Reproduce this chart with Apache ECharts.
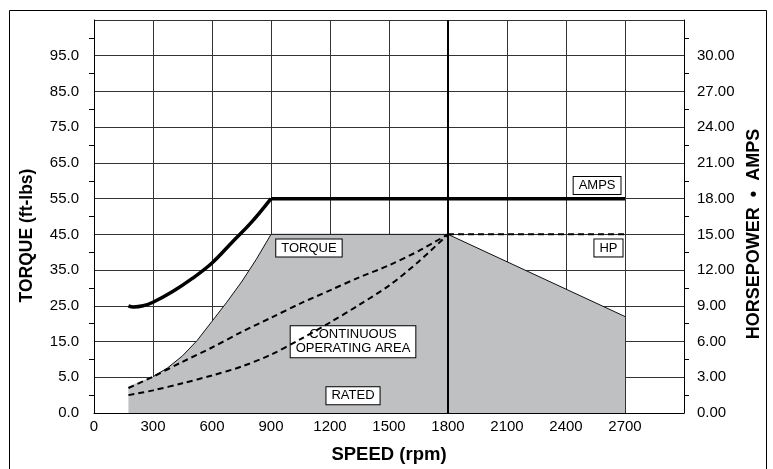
<!DOCTYPE html>
<html>
<head>
<meta charset="utf-8">
<script src="https://cdn.jsdelivr.net/npm/echarts@6/dist/echarts.min.js"></script>
<style>
html,body{margin:0;padding:0;background:#fff;}
#chart{width:773px;height:469px;}
</style>
</head>
<body>
<div id="chart"></div>
<script>
// ---- Data (values in the right-hand HORSEPOWER • AMPS axis units) ----
const leftTickLabels = ['0.0','5.0','15.0','25.0','35.0','45.0','55.0','65.0','75.0','85.0','95.0',''];

const ampsSpeed  = [175, 200, 250, 300, 400, 500, 600, 700, 800, 900];
const ampsValues = [9.0, 8.9, 9.0, 9.3, 10.2, 11.3, 12.6, 14.3, 16.0, 18.0];
const ampsFlatSpeed  = [900, 2700];
const ampsFlatValues = [18.0, 18.0];

const torqueSpeed  = [175, 300, 375, 450, 525, 600, 675, 750, 825, 900, 1800, 2700];
const torqueValues = [2.25, 3.05, 3.8, 4.8, 6.1, 7.7, 9.3, 11.0, 12.9, 15.0, 15.0, 8.1];

const hpSpeed      = [175, 300, 450, 600, 750, 900, 1050, 1200, 1350, 1500, 1650, 1800];
const hpUpper      = [2.1, 3.05, 4.3, 5.5, 6.8, 8.0, 9.2, 10.3, 11.4, 12.4, 13.6, 15.0];
const hpLower      = [1.5, 1.9, 2.5, 3.15, 3.9, 4.9, 6.2, 7.6, 9.1, 10.7, 12.7, 15.0];
const hpFlatSpeed  = [1800, 2700];
const hpFlatValues = [15.0, 15.0];

const ratedSpeed = 1800;

const annotations = [
  {text: 'AMPS', x: 2558, y: 19.1},
  {text: 'HP', x: 2616, y: 13.86},
  {text: 'TORQUE', x: 1093, y: 13.86},
  {text: 'CONTINUOUS\nOPERATING AREA', x: 1317, y: 5.98},
  {text: 'RATED', x: 1317, y: 1.44}
];

const pairs = (xs, ys) => xs.map((x, i) => [x, ys[i]]);
const FONT = 'Liberation Sans, Arial, Helvetica, sans-serif';

const chart = echarts.init(document.getElementById('chart'), null, {renderer: 'canvas'});

const option = {
  animation: false,
  backgroundColor: '#fff',
  graphic: [{
    type: 'rect',
    shape: {x: 9.5, y: 10.5, width: 757, height: 480},
    style: {fill: 'none', stroke: '#000', lineWidth: 1},
    silent: true, z: 0
  }],
  grid: {left: 94, right: 89, top: 20, bottom: 49, containLabel: false},
  xAxis: {
    type: 'value', min: 0, max: 3000, interval: 300,
    name: 'SPEED (rpm)', nameLocation: 'middle', nameGap: 32,
    nameTextStyle: {fontFamily: FONT, fontWeight: 'bold', fontSize: 18.5, color: '#000'},
    axisLine: {show: true, lineStyle: {color: '#000', width: 1}},
    axisTick: {show: false},
    axisLabel: {color: '#000', fontFamily: FONT, fontSize: 15, margin: 6,
      formatter: v => v === 3000 ? '' : String(v)},
    splitLine: {show: true, lineStyle: {color: '#333', width: 1}}
  },
  yAxis: [{
    type: 'value', min: 0, max: 11, interval: 1, position: 'left',
    name: 'TORQUE (ft-lbs)', nameLocation: 'middle', nameGap: 58,
    nameTextStyle: {fontFamily: FONT, fontWeight: 'bold', fontSize: 17.5, color: '#000', padding: [0, 38, 0, 0]},
    axisLine: {show: true, lineStyle: {color: '#000', width: 1}},
    axisTick: {show: false},
    minorTick: {show: true, splitNumber: 2, length: 5, lineStyle: {color: '#000', width: 1}},
    axisLabel: {color: '#000', fontFamily: FONT, fontSize: 15, margin: 15,
      formatter: v => leftTickLabels[Math.round(v)] || ''},
    splitLine: {show: false}
  }, {
    type: 'value', min: 0, max: 33, interval: 3, position: 'right',
    name: 'HORSEPOWER  \u2022  AMPS', nameLocation: 'middle', nameGap: 59,
    nameTextStyle: {fontFamily: FONT, fontWeight: 'bold', fontSize: 18, color: '#000', padding: [0, 35, 0, 0]},
    axisLine: {show: true, lineStyle: {color: '#000', width: 1}},
    axisTick: {show: false},
    minorTick: {show: true, splitNumber: 2, length: 5, lineStyle: {color: '#000', width: 1}},
    axisLabel: {color: '#000', fontFamily: FONT, fontSize: 15, margin: 13,
      formatter: v => v === 33 ? '' : v.toFixed(2)},
    splitLine: {show: true, lineStyle: {color: '#333', width: 1}}
  }],
  series: [
    {
      name: 'Continuous operating area', type: 'line', yAxisIndex: 1,
      data: pairs(torqueSpeed, torqueValues),
      showSymbol: false, symbol: 'none', z: 1,
      lineStyle: {width: 0, opacity: 0},
      areaStyle: {color: '#bfc0c2', opacity: 1},
      markLine: {
        silent: true, symbol: ['none', 'none'], label: {show: false},
        lineStyle: {color: '#000', width: 2, type: 'solid'},
        data: [{xAxis: ratedSpeed}]
      },
      markPoint: {
        z: 5,
        symbol: 'rect', symbolSize: 1,
        itemStyle: {color: 'rgba(0,0,0,0)'},
        label: {
          show: true, position: 'inside', color: '#000', fontFamily: FONT, fontSize: 13,
          lineHeight: 14, backgroundColor: '#fff', borderColor: '#000', borderWidth: 1,
          padding: [2, 5, 1, 5], align: 'center',
          formatter: p => p.name
        },
        data: annotations.map(a => ({name: a.text, coord: [a.x, a.y]}))
      }
    },
    {
      name: 'Torque', type: 'line', yAxisIndex: 1,
      data: pairs(torqueSpeed.slice(1), torqueValues.slice(1)),
      showSymbol: false, symbol: 'none', z: 6,
      lineStyle: {color: '#111', width: 1}
    },
    {
      name: 'HP upper', type: 'line', yAxisIndex: 1, smooth: 0.3,
      data: pairs(hpSpeed, hpUpper),
      showSymbol: false, symbol: 'none', z: 8,
      lineStyle: {color: '#000', width: 2, type: [6, 4]}
    },
    {
      name: 'HP lower', type: 'line', yAxisIndex: 1, smooth: 0.3,
      data: pairs(hpSpeed, hpLower),
      showSymbol: false, symbol: 'none', z: 8,
      lineStyle: {color: '#000', width: 2, type: [6, 4]}
    },
    {
      name: 'HP', type: 'line', yAxisIndex: 1,
      data: pairs(hpFlatSpeed, hpFlatValues),
      showSymbol: false, symbol: 'none', z: 8,
      lineStyle: {color: '#000', width: 2, type: [6, 4]}
    },
    {
      name: 'AMPS rise', type: 'line', yAxisIndex: 1, smooth: 0.4,
      data: pairs(ampsSpeed, ampsValues),
      showSymbol: false, symbol: 'none', z: 9,
      lineStyle: {color: '#000', width: 3.5}
    },
    {
      name: 'AMPS', type: 'line', yAxisIndex: 1,
      data: pairs(ampsFlatSpeed, ampsFlatValues),
      showSymbol: false, symbol: 'none', z: 9,
      lineStyle: {color: '#000', width: 3.5}
    }
  ]
};
chart.setOption(option);
</script>
</body>
</html>
